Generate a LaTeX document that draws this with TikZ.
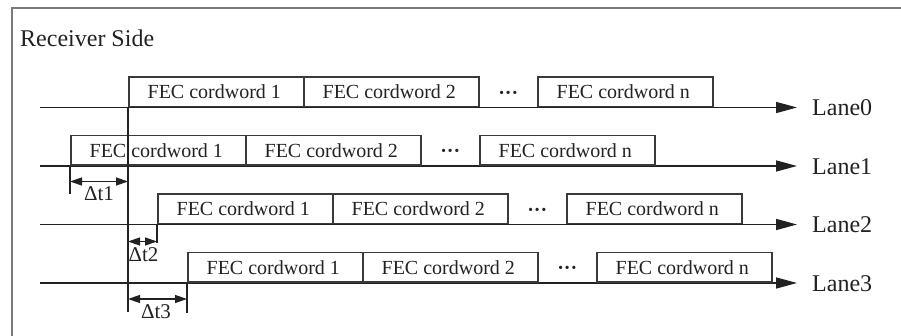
\documentclass[tikz,border=0pt]{standalone}
\usepackage{fontspec}
\setmainfont{Liberation Serif}
\usetikzlibrary{arrows.meta,calc}
\definecolor{ink}{HTML}{222222}
\definecolor{boxline}{HTML}{3A3A3A}
\definecolor{framegray}{HTML}{7A7A7A}
\tikzset{
  cw/.style={draw=boxline, line width=1.6pt, minimum width=175pt, minimum height=29.5pt,
    inner sep=0pt, anchor=south west, font=\fontsize{20}{22}\selectfont, text=ink,
    execute at end node={\kern4pt}},
  lane/.style={draw=ink, line width=1.5pt, -{Triangle[length=21pt,width=11pt]}},
  lanelabel/.style={anchor=west, inner sep=0pt, font=\fontsize{24}{26}\selectfont, text=ink},
  dots/.style={inner sep=0pt, anchor=base, font=\bfseries\fontsize{20}{22}\selectfont, text=ink},
  marker/.style={draw=ink, line width=1.5pt},
  delay/.style={draw=ink, line width=1.3pt, {Triangle[length=12pt,width=8pt]}-{Triangle[length=12pt,width=8pt]}},
  delaylabel/.style={inner sep=0pt, font=\fontsize{21}{23}\selectfont, text=ink},
}
\begin{document}
\begin{tikzpicture}[x=1pt, y=-1pt]
\useasboundingbox (0,0) rectangle (901,336);
% outer frame (only the top and left edges fall inside the picture)
\draw[framegray, line width=2.2pt] (12,340) -- (12,8) -- (905,8);
\node[anchor=west, inner sep=0pt, font=\fontsize{24}{26}\selectfont, text=ink] (title) at (20,38) {Receiver Side};

% four lanes: y position, start of the first codeword
\foreach \i/\y/\s in {0/107.5/128, 1/166/70, 2/224.5/157, 3/283/187} {
  \coordinate (start\i) at (40,\y);
  \coordinate (tip\i) at (797,\y);
  \draw[lane] (start\i) -- (tip\i);
  \node[lanelabel] (lbl\i) at (812,\y+0.5) {Lane\i};
  \node[cw] (a\i) at (\s,\y) {FEC cordword 1};
  \node[cw] (b\i) at (\s+175,\y) {FEC cordword 2};
  \node[cw] (n\i) at (\s+409,\y) {FEC cordword n};
  \node[dots] (d\i) at ($(b\i.south east)!0.5!(n\i.south west)+(0,-8)$) {···};
}

% reference line and skew markers
\coordinate (ref0) at (128,312);
\coordinate (m1) at (70,194);
\coordinate (m2) at (157,243);
\coordinate (m3) at (187,313);
\draw[marker] (a0.south west) -- (ref0);
\draw[marker] (a1.south west) -- (m1);
\draw[marker] (a2.south west) -- (m2);
\draw[marker] (a3.south west) -- (m3);

\coordinate (d1l) at (70,181.5);  \coordinate (d1r) at (128,181.5);
\coordinate (d2l) at (128,241.5); \coordinate (d2r) at (157,241.5);
\coordinate (d3l) at (128,299);   \coordinate (d3r) at (187,299);
\draw[delay] (d1l) -- (d1r);
\draw[delay] (d2l) -- (d2r);
\draw[delay] (d3l) -- (d3r);
\node[delaylabel] (t1) at (99,194) {Δt1};
\node[delaylabel] (t2) at (143.5,254.5) {Δt2};
\node[delaylabel] (t3) at (156,311.5) {Δt3};
\end{tikzpicture}
\end{document}
